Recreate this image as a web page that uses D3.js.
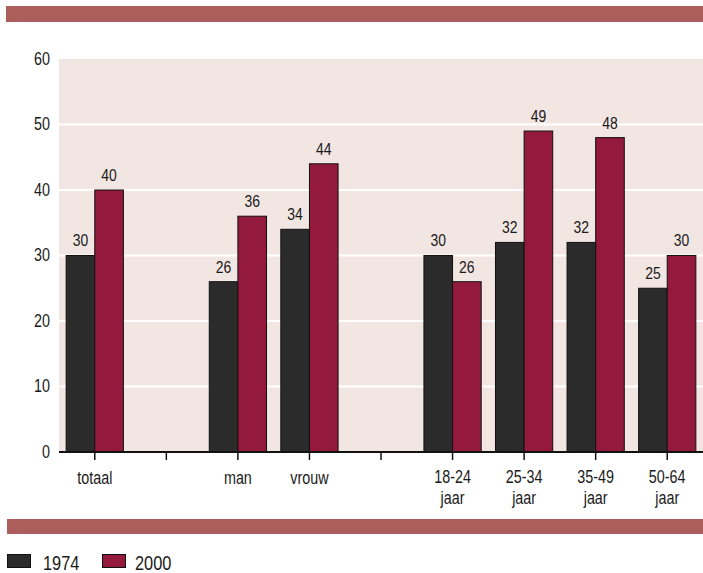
<!DOCTYPE html>
<html><head><meta charset="utf-8">
<script src="https://cdn.jsdelivr.net/npm/d3@7"></script>
<style>
body{margin:0;background:#fff;}
</style></head>
<body><svg id="c" width="703" height="573"></svg>
<script>
const slots = ["totaal","gap1","man","vrouw","gap2","18-24 jaar","25-34 jaar","35-49 jaar","50-64 jaar"];
const categories = ["totaal","man","vrouw","18-24 jaar","25-34 jaar","35-49 jaar","50-64 jaar"];
const series = ["1974","2000"];
const values1974 = [30,26,34,30,32,32,25];
const values2000 = [40,36,44,26,49,48,30];
const yTicks = [0,10,20,30,40,50,60];
const colors = ["#2b2b2b","#93193d"];

// font detection
const cv = document.createElement("canvas").getContext("2d");
function has(f){
  cv.font = "40px monospace"; const a = cv.measureText("18-24 jaar totaal").width;
  cv.font = "40px \"" + f + "\", monospace"; const b = cv.measureText("18-24 jaar totaal").width;
  return Math.abs(a-b) > 0.5;
}
let FONT = "Liberation Sans", SX = 0.82;
if (has("Liberation Sans Narrow")) { FONT = "Liberation Sans Narrow"; SX = 1; }

const svg = d3.select("#c");
function addText(parent, x, y, str, size, anchor){
  return parent.append("text")
    .attr("transform", SX===1 ? null : `scale(${SX},1)`)
    .attr("x", x/SX).attr("y", y)
    .attr("text-anchor", anchor||"start")
    .attr("font-family", FONT).attr("font-size", size).attr("fill","#1a1a1a")
    .text(str);
}

const L=59, R=703, T=59, B=452;
const x = d3.scaleBand().domain(slots).range([L,R]).paddingInner(0).paddingOuter(0);
const inner = d3.scaleBand().domain(series).range([0, x.bandwidth()]).paddingOuter(0.25).paddingInner(0);
const y = d3.scaleLinear().domain([0,60]).range([B,T]);

// bands
svg.append("rect").attr("x",6).attr("y",6).attr("width",697).attr("height",16).attr("fill","#ab5e5c");
svg.append("rect").attr("x",7).attr("y",519).attr("width",696).attr("height",15).attr("fill","#ab5e5c");

// plot background
svg.append("rect").attr("x",L).attr("y",T).attr("width",R-L).attr("height",B-T).attr("fill","#f2e6e3");

// gridlines
svg.append("g").selectAll("line").data(yTicks.filter(d=>d>0 && d<60)).join("line")
  .attr("x1",L).attr("x2",R).attr("y1",d=>y(d)).attr("y2",d=>y(d))
  .attr("stroke","#fff").attr("stroke-width",2);

// y labels
const yl = svg.append("g");
yTicks.forEach(d=> addText(yl, 50, y(d)+6, d, 17.5, "end"));

// bars
const data = categories.map((c,i)=>({c, v:[values1974[i], values2000[i]]}));
const g = svg.append("g");
data.forEach(d=>{
  d.v.forEach((v,j)=>{
    const bx = x(d.c)+inner(series[j]);
    g.append("rect").attr("x",bx).attr("y",y(v)).attr("width",inner.bandwidth()).attr("height",y(0)-y(v))
      .attr("fill",colors[j]).attr("stroke","#111").attr("stroke-width",1);
  });
});
data.forEach(d=>{
  d.v.forEach((v,j)=>{
    const bx = x(d.c)+inner(series[j]);
    addText(g, bx+inner.bandwidth()/2, y(v)-9, v, 17, "middle");
  });
});

// x axis
svg.append("line").attr("x1",L).attr("x2",R).attr("y1",B).attr("y2",B).attr("stroke","#111").attr("stroke-width",2);
svg.append("g").selectAll("line").data(slots).join("line")
  .attr("x1",d=>x(d)+x.bandwidth()/2).attr("x2",d=>x(d)+x.bandwidth()/2)
  .attr("y1",B).attr("y2",B+8).attr("stroke","#111").attr("stroke-width",1.5);

// x labels
const xl = svg.append("g");
categories.forEach(c=>{
  const parts = c.split(" ");
  const cx = x(c)+x.bandwidth()/2;
  if(parts.length===1){
    addText(xl, cx, 484, parts[0], 17.5, "middle");
  } else {
    addText(xl, cx, 483, parts[0], 17.5, "middle");
    addText(xl, cx, 504, parts[1], 17.5, "middle");
  }
});

// legend
const leg = svg.append("g");
[[7,43],[102,135]].forEach((p,i)=>{
  leg.append("rect").attr("x",p[0]+0.5).attr("y",554.5).attr("width",23).attr("height",13)
    .attr("fill",colors[i]).attr("stroke","#111").attr("stroke-width",1);
  addText(leg, p[1], 570, series[i], 20, "start");
});
</script></body></html>
